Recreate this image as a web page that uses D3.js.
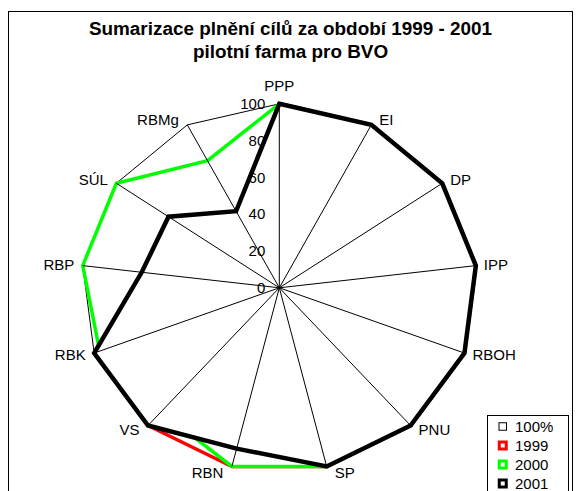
<!DOCTYPE html>
<html><head><meta charset="utf-8">
<script src="https://cdn.jsdelivr.net/npm/d3@7"></script>
<style>
body{margin:0;background:#fff;}
text{font-family:Arial,"Liberation Sans",sans-serif;}
</style></head>
<body>
<svg id="chart" width="582" height="491"></svg>
<script>
const categories = ["PPP","EI","DP","IPP","RBOH","PNU","SP","RBN","VS","RBK","RBP","SÚL","RBMg"];
const full100 = [100,100,100,100,100,100,100,100,100,100,100,100,100];
const y1999 = [100,100,100,100,100,100,100,100,100,90,85,85,60];
const y2000 = [100,100,100,100,100,100,100,100,90,97,100,100,78];
const y2001 = [100,100,100,100,100,100,100,90,100,100,70,68,47];
const seriesNames = ["100%","1999","2000","2001"];
const seriesColors = ["#000000","#ff0000","#00ff00","#000000"];
const seriesWidths = [1,3.5,3.5,4.5];
const tickValues = [0,20,40,60,80,100];
const titleLines = ["Sumarizace plnění cílů za období 1999 - 2001","pilotní farma pro BVO"];

const svg = d3.select("#chart");
const cx = 279.3, cy = 287.8, rx = 198, ry = 184;
const n = categories.length;
const ang = d3.scaleLinear().domain([0,n]).range([0,2*Math.PI]);
const rX = d3.scaleLinear().domain([0,100]).range([0,rx]);
const rY = d3.scaleLinear().domain([0,100]).range([0,ry]);
const px = (i,v)=>cx + rX(v)*Math.sin(ang(i));
const py = (i,v)=>cy - rY(v)*Math.cos(ang(i));

// frame
svg.append("rect").attr("x",8.5).attr("y",11.5).attr("width",564).attr("height",520)
  .attr("fill","#fff").attr("stroke","#000").attr("stroke-width",1);

// title
svg.selectAll("text.title").data(titleLines).enter().append("text")
  .attr("class","title").attr("x",290.5).attr("y",(d,i)=>35+i*23)
  .attr("text-anchor","middle").attr("font-size","18.9px").attr("font-weight","bold")
  .text(d=>d);

const line = d3.line().x(d=>px(d.i,d.v)).y(d=>py(d.i,d.v)).curve(d3.curveLinearClosed);
const series = [full100,y1999,y2000,y2001];
series.forEach((vals,k)=>{
  svg.append("path")
    .attr("d", line(vals.map((v,i)=>({i,v}))))
    .attr("fill","#fff")
    .attr("stroke",seriesColors[k])
    .attr("stroke-width",seriesWidths[k])
    .attr("stroke-linejoin","miter");
});

// spokes
svg.selectAll("line.spoke").data(categories).enter().append("line")
  .attr("x1",cx).attr("y1",cy)
  .attr("x2",(d,i)=>px(i,100)).attr("y2",(d,i)=>py(i,100))
  .attr("stroke","#000").attr("stroke-width",1);

// value ticks
svg.selectAll("text.tick").data(tickValues).enter().append("text")
  .attr("x",cx-14).attr("y",d=>cy - rY(d)).attr("dy","0.35em")
  .attr("text-anchor","end").attr("font-size","15px").text(d=>d);

// category labels
svg.selectAll("text.cat").data(categories).enter().append("text")
  .attr("x",(d,i)=>{const s=Math.sin(ang(i));return px(i,100)+ (Math.abs(s)<0.05?0:(s>0?8:-8.5));})
  .attr("y",(d,i)=>{const s=Math.sin(ang(i)), c=Math.cos(ang(i));
     return py(i,100) - c*6 - (Math.abs(s)<0.05?11.6:0);})
  .attr("dy","0.35em")
  .attr("text-anchor",(d,i)=>{const s=Math.sin(ang(i));return Math.abs(s)<0.05?"middle":(s>0?"start":"end");})
  .attr("font-size","15px").text(d=>d);

// legend
const lg = svg.append("g").attr("transform","translate(487.5,415.5)");
lg.append("rect").attr("width",81).attr("height",100).attr("fill","#fff").attr("stroke","#000").attr("stroke-width",1);
seriesNames.forEach((nm,k)=>{
  const yy = 11 + k*19;
  const w = seriesWidths[k]>1?3:1;
  const outer = seriesWidths[k]>1?10:8.5;
  lg.append("rect").attr("x",11+w/2-(outer-8.5)/2).attr("y",yy-outer/2+w/2)
    .attr("width",outer-w).attr("height",outer-w)
    .attr("fill","#fff").attr("stroke",seriesColors[k]).attr("stroke-width",w);
  lg.append("text").attr("x",27.5).attr("y",yy).attr("dy","0.35em")
    .attr("font-size","15px").text(nm);
});
</script>
</body></html>
